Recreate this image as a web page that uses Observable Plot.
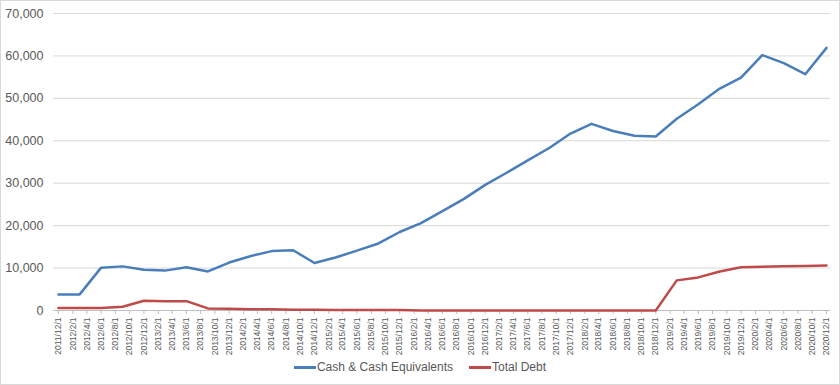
<!DOCTYPE html>
<html>
<head>
<meta charset="utf-8">
<script src="https://cdn.jsdelivr.net/npm/d3@7"></script>
<script src="https://cdn.jsdelivr.net/npm/@observablehq/plot@0.6"></script>
<style>
  html, body { margin: 0; padding: 0; background: #fff; }
  #frame { width: 840px; height: 385px; box-sizing: border-box; border: 1px solid #d9d9d9; background: #fff; overflow: hidden; }
  #legend { display: flex; justify-content: center; align-items: center; height: 28px; font-family: "Liberation Sans", Arial, sans-serif; font-size: 12px; color: #595959; }
  .item { display: flex; align-items: center; margin: 0 8px; }
  .sw { display: inline-block; width: 22px; height: 3px; margin-right: 1px; }
</style>
</head>
<body>
<div id="frame"><div id="chart"></div><div id="legend"></div></div>
<script>
const dates = [
  "2011-12-01",
  "2012-03-01","2012-06-01","2012-09-01","2012-12-01",
  "2013-03-01","2013-06-01","2013-09-01","2013-12-01",
  "2014-03-01","2014-06-01","2014-09-01","2014-12-01",
  "2015-03-01","2015-06-01","2015-09-01","2015-12-01",
  "2016-03-01","2016-06-01","2016-09-01","2016-12-01",
  "2017-03-01","2017-06-01","2017-09-01","2017-12-01",
  "2018-03-01","2018-06-01","2018-09-01","2018-12-01",
  "2019-03-01","2019-06-01","2019-09-01","2019-12-01",
  "2020-03-01","2020-06-01","2020-09-01","2020-12-01"
];
const cashValues = [
  3800,
  3800, 10100, 10400, 9600,
  9400, 10200, 9200, 11300,
  12800, 14000, 14200, 11200,
  12500, 14100, 15800, 18500,
  20600, 23400, 26300, 29600,
  32400, 35400, 38300, 41700,
  44000, 42300, 41200, 41000,
  45200, 48600, 52300, 54900,
  60200, 58300, 55700, 61900
];
const debtValues = [
  600,
  600, 600, 900, 2300,
  2200, 2200, 500, 400,
  300, 300, 200, 200,
  100, 100, 100, 100,
  0, 0, 0, 0,
  0, 0, 0, 0,
  0, 0, 0, 0,
  7100, 7800, 9200, 10200,
  10300, 10400, 10500, 10600
];
const seriesNames = ["Cash & Cash Equivalents", "Total Debt"];
const seriesColors = ["#4A7EBB", "#BE4B48"];
const yTicks = [0, 10000, 20000, 30000, 40000, 50000, 60000, 70000];
const xTickStart = "2011-12-01";
const xTickEnd = "2021-01-01";

const rows = [];
dates.forEach((d, i) => {
  rows.push({date: new Date(d), value: cashValues[i], series: seriesNames[0]});
  rows.push({date: new Date(d), value: debtValues[i], series: seriesNames[1]});
});
const xTicks = d3.utcMonth.range(new Date(xTickStart), new Date(xTickEnd), 2);
const fmtDate = d => `${d.getUTCFullYear()}/${d.getUTCMonth() + 1}/1`;

const chart = Plot.plot({
  width: 838,
  height: 352,
  marginLeft: 52,
  marginRight: 9,
  marginTop: 12,
  marginBottom: 43,
  style: {fontFamily: "'Liberation Sans', Arial, sans-serif", background: "#fff", overflow: "visible"},
  x: {type: "utc", domain: [new Date(Date.UTC(2011, 10, 10)), new Date(Date.UTC(2020, 11, 18))]},
  y: {domain: [0, 70000]},
  color: {domain: seriesNames, range: seriesColors},
  marks: [
    Plot.ruleY(yTicks.filter(d => d > 0), {stroke: "#d9d9d9", strokeWidth: 1}),
    Plot.ruleY([0], {stroke: "#bfbfbf", strokeWidth: 1}),
    Plot.axisY({ticks: yTicks, tickSize: 0, tickPadding: 10, tickFormat: d3.format(","), fontSize: 12.5, color: "#595959", label: null}),
    Plot.axisX({ticks: xTicks, tickFormat: fmtDate, tickRotate: -90, tickSize: 4, tickPadding: 3, fontSize: 8.5, color: "#595959", stroke: "#bfbfbf", label: null}),
    Plot.line(rows, {x: "date", y: "value", z: "series", stroke: "series", strokeWidth: 2.5, strokeLinejoin: "round"})
  ]
});
chart.querySelectorAll("g[aria-label='x-axis tick'] path, g[aria-label='x-axis tick'] line").forEach(p => p.setAttribute("stroke", "#bfbfbf"));
document.getElementById("chart").appendChild(chart);

const legend = document.getElementById("legend");
seriesNames.forEach((name, i) => {
  const item = document.createElement("span");
  item.className = "item";
  const sw = document.createElement("span");
  sw.className = "sw";
  sw.style.background = seriesColors[i];
  item.appendChild(sw);
  item.appendChild(document.createTextNode(name));
  legend.appendChild(item);
});
</script>
</body>
</html>
